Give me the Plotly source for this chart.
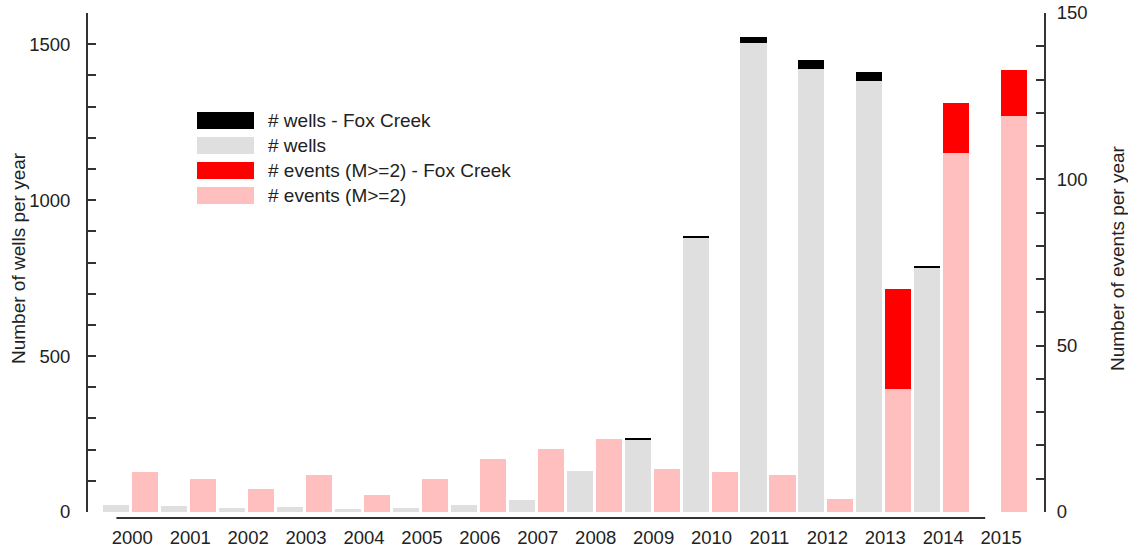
import plotly.graph_objects as go

# ---- data ----
years = [2000, 2001, 2002, 2003, 2004, 2005, 2006, 2007,
         2008, 2009, 2010, 2011, 2012, 2013, 2014, 2015]
wells_other = [22, 19, 12, 16, 10, 13, 22, 37, 131, 234, 878, 1503, 1419, 1381, 784, 0]
wells_fox = [0, 0, 0, 0, 0, 0, 0, 0, 0, 2, 7, 21, 30, 31, 6, 0]
events_other = [12, 10, 7, 11, 5, 10, 16, 19, 22, 13, 12, 11, 4, 37, 108, 119]
events_fox = [0, 0, 0, 0, 0, 0, 0, 0, 0, 0, 0, 0, 0, 30, 15, 14]

left_ticks = list(range(0, 1601, 100))
right_ticks = list(range(0, 151, 10))

legend_labels = ["# wells - Fox Creek", "# wells",
                 "# events (M>=2) - Fox Creek", "# events (M>=2)"]

# ---- styles ----
C_GRAY = "#dfdfdf"
C_BLACK = "#000000"
C_RED = "#ff0000"
C_PINK = "#ffbfbf"
AX = "#333333"
TXT = "#222222"
FONT = "Liberation Sans, Arial, sans-serif"
FS = 19

n = len(years)
xw = [2 * i for i in range(n)]
xe = [2 * i + 1 for i in range(n)]

fig = go.Figure()
fig.add_trace(go.Bar(x=xw, y=wells_other, width=0.9, marker=dict(color=C_GRAY, line=dict(width=0)),
                     name="# wells", yaxis="y"))
fig.add_trace(go.Bar(x=xw, y=wells_fox, base=wells_other, width=0.9,
                     marker=dict(color=C_BLACK, line=dict(width=0)),
                     name="# wells - Fox Creek", yaxis="y"))
fig.add_trace(go.Bar(x=xe, y=events_other, width=0.9, marker=dict(color=C_PINK, line=dict(width=0)),
                     name="# events (M>=2)", yaxis="y2"))
fig.add_trace(go.Bar(x=xe, y=events_fox, base=events_other, width=0.9,
                     marker=dict(color=C_RED, line=dict(width=0)),
                     name="# events (M>=2) - Fox Creek", yaxis="y2"))

W, H = 1128, 552
ml, mr, mt, mb = 88, 84, 13, 40
pw, ph = W - ml - mr, H - mt - mb


def px2paper_x(px):
    return (px - ml) / pw


def px2paper_y(py):
    return (H - mb - py) / ph


fig.update_layout(
    width=W, height=H,
    margin=dict(l=ml, r=mr, t=mt, b=mb, autoexpand=False),
    paper_bgcolor="white", plot_bgcolor="white",
    barmode="overlay", bargap=0,
    showlegend=False,
    font=dict(family=FONT, size=FS, color=TXT),
    xaxis=dict(range=[-0.98, 2 * n + 0.03], showgrid=False, zeroline=False, showline=False,
               automargin=False,
               tickmode="array", tickvals=[2 * i + 0.55 for i in range(n)],
               ticktext=[str(y) for y in years], ticks="", ticklabelstandoff=12,
               tickfont=dict(size=18.5, color=TXT)),
    yaxis=dict(range=[0, 1600], showgrid=False, zeroline=False, showline=True, automargin=False,
               linecolor=AX, linewidth=2, ticks="inside", ticklen=8, tickwidth=1.5,
               tickcolor=AX, tickmode="array", tickvals=left_ticks,
               ticktext=[str(v) if v % 500 == 0 else "" for v in left_ticks],
               ticklabelstandoff=12, tickfont=dict(size=18.5, color=TXT)),
    yaxis2=dict(range=[0, 150], overlaying="y", side="right", showgrid=False, zeroline=False,
                automargin=False,
                showline=True, linecolor=AX, linewidth=2, ticks="inside", ticklen=8,
                tickwidth=1.5, tickcolor=AX, tickmode="array", tickvals=right_ticks,
                ticktext=[str(v) if v % 50 == 0 else "" for v in right_ticks],
                ticklabelstandoff=7, tickfont=dict(size=18.5, color=TXT)),
)

# x-axis baseline (R style, offset below the bars)
fig.add_shape(type="line", xref="x", yref="paper", x0=0, x1=2 * (n - 1),
              y0=-6 / ph, y1=-6 / ph, line=dict(color=AX, width=2))

# axis titles
fig.add_annotation(text="Number of wells per year", xref="paper", yref="paper",
                   x=0, y=px2paper_y(258), xshift=18 - ml, textangle=-90,
                   showarrow=False, xanchor="center", yanchor="middle",
                   font=dict(size=FS, color=TXT))
fig.add_annotation(text="Number of events per year", xref="paper", yref="paper",
                   x=1, y=px2paper_y(258), xshift=1117 - (W - mr), textangle=-90,
                   showarrow=False, xanchor="center", yanchor="middle",
                   font=dict(size=FS, color=TXT))

# custom legend
leg_colors = [C_BLACK, C_GRAY, C_RED, C_PINK]
row_top = 112
row_step = 25
for k, (lab, col) in enumerate(zip(legend_labels, leg_colors)):
    top = row_top + k * row_step
    fig.add_shape(type="rect", xref="paper", yref="paper",
                  x0=px2paper_x(197), x1=px2paper_x(254),
                  y0=px2paper_y(top + 17), y1=px2paper_y(top),
                  fillcolor=col, line=dict(width=0))
    fig.add_annotation(text=lab, xref="paper", yref="paper",
                       x=px2paper_x(266), y=px2paper_y(top + 8.5),
                       showarrow=False, xanchor="left", yanchor="middle",
                       font=dict(size=FS, color=TXT))

fig.write_html("out.html")
